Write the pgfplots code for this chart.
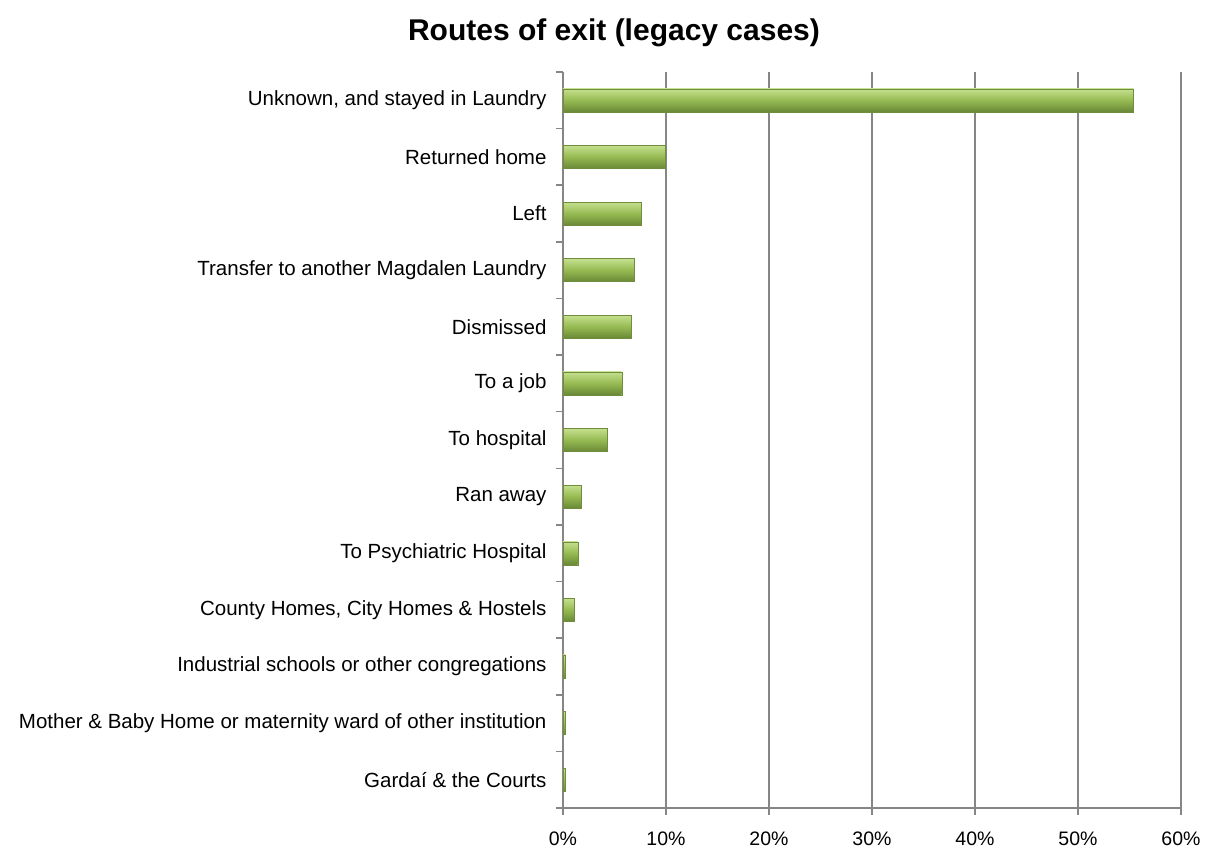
\documentclass[border=0pt]{standalone}
\usepackage{pgfplots}
\pgfplotsset{compat=1.18}
\usepackage{fontspec}
\setmainfont{Liberation Sans}
\definecolor{gridc}{HTML}{868686}
\definecolor{gtop}{HTML}{C5E08E}
\definecolor{gmid}{HTML}{96BA52}
\definecolor{gbot}{HTML}{6A8836}
\definecolor{gedge}{HTML}{6F8D3C}
\newcommand{\onebar}[2]{\addplot[xbar, bar width=23bp, draw=gedge, line width=0.4pt, top color=gtop, bottom color=gbot, middle color=gmid, forget plot] coordinates {(#1,#2)};}
\begin{document}
\begin{tikzpicture}
\begin{axis}[
  at={(0,0)}, anchor=south west,
  scale only axis, width=618bp, height=736bp,
  xmin=0, xmax=60, ymin=-0.5, ymax=12.5,
  xtick={0,10,...,60},
  xticklabel={\pgfmathprintnumber{\tick}\%},
  /pgf/number format/assume math mode=true,
  ytick={0,...,12},
  yticklabels={{Gardaí \& the Courts},{Mother \& Baby Home or maternity ward of other institution},{Industrial schools or other congregations},{County Homes, City Homes \& Hostels},{To Psychiatric Hospital},{Ran away},{To hospital},{To a job},{Dismissed},{Transfer to another Magdalen Laundry},{Left},{Returned home},{Unknown, and stayed in Laundry}},
  minor ytick={-0.5,0.5,...,12.5},
  major tick length=7bp,
  minor tick length=7bp,
  tick align=outside,
  xmajorgrids, grid style={gridc, line width=1.5bp},
  axis x line*=bottom, axis y line*=left,
  axis line style={gridc, line width=1.5bp},
  x axis line style={-}, y axis line style={-},
  xtick style={gridc, line width=1.5bp},
  major y tick style={draw=none},
  minor y tick style={draw=gridc, line width=1.5bp},
  xticklabel style={font=\fontsize{19.5bp}{22bp}\selectfont, text=black, anchor=base, yshift=-30bp},
  yticklabel style={font=\fontsize{20.5bp}{23bp}\selectfont, text=black, anchor=east, xshift=-6bp},
  clip=false,
]
\onebar{0.2}{0}
\onebar{0.2}{1}
\onebar{0.25}{2}
\onebar{1.04}{3}
\onebar{1.43}{4}
\onebar{1.8}{5}
\onebar{4.25}{6}
\onebar{5.7}{7}
\onebar{6.67}{8}
\onebar{6.87}{9}
\onebar{7.55}{10}
\onebar{9.95}{11}
\onebar{55.4}{12}
\end{axis}
\node[anchor=base, font=\fontsize{30bp}{34bp}\selectfont\bfseries] at (51bp,767bp) {Routes of exit (legacy cases)};
\pgfresetboundingbox
\path (-563bp,-48bp) rectangle (649bp,808bp);
\end{tikzpicture}
\end{document}
